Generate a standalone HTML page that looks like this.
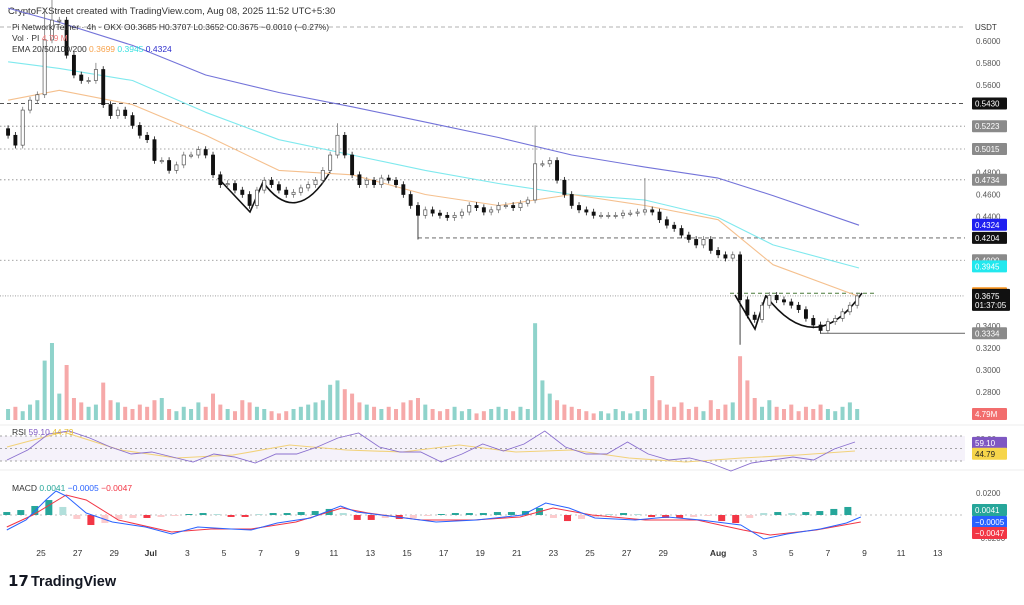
<!DOCTYPE html>
<html><head><meta charset="utf-8"><style>
body{margin:0;background:#fff;width:1024px;height:600px;overflow:hidden;font-family:"Liberation Sans",sans-serif}
svg text{font-family:"Liberation Sans",sans-serif}
</style></head><body>
<svg id="c" width="1024" height="600" viewBox="0 0 1024 600" xmlns="http://www.w3.org/2000/svg">
<rect width="1024" height="600" fill="#fff"/>
<text x="8" y="14" font-size="9.5" fill="#333">CryptoFXStreet created with TradingView.com, Aug 08, 2025 11:52 UTC+5:30</text>
<g id="grid"></g>
<g id="anno"></g>
<g id="vol"></g>
<g id="ema"></g>
<g id="candles"></g>
<g id="rsi"></g>
<g id="macd"></g>
<g id="axes"></g>
<g font-size="8.5" fill="#333">
<text x="12" y="30">Pi Network/Tether · 4h · OKX  O0.3685  H0.3707  L0.3652  C0.3675  −0.0010 (−0.27%)</text>
<text x="12" y="41">Vol · PI  <tspan fill="#f47c7c">4.79 M</tspan></text>
<text x="12" y="52">EMA 20/50/100/200  <tspan fill="#f7a24b">0.3699</tspan>  <tspan fill="#35e0e0">0.3945</tspan>  <tspan fill="#2d2dcc">0.4324</tspan></text>
<text x="12" y="435">RSI  <tspan fill="#7e57c2">59.10</tspan>  <tspan fill="#e6c03a">44.79</tspan></text>
<text x="12" y="491">MACD  <tspan fill="#26a69a">0.0041</tspan>  <tspan fill="#2962ff">−0.0005</tspan>  <tspan fill="#f23645">−0.0047</tspan></text>
</g>
<g>
<text x="8" y="586" font-size="15" font-weight="bold" fill="#131722">𝟭𝟳</text>
<text x="31" y="586" font-size="14.5" font-weight="bold" fill="#131722">TradingView</text>
</g>
</svg>
<script>
// ---- data ----
const t0 = -1.8, tStep = 0.4;
const closes = [0.514,0.505,0.537,0.546,0.551,0.601,0.619,0.619,0.587,0.569,0.564,0.564,0.574,0.542,0.532,0.537,0.532,0.523,0.514,0.510,0.491,0.491,0.482,0.487,0.496,0.496,0.501,0.496,0.478,0.469,0.470,0.464,0.460,0.450,0.464,0.473,0.469,0.464,0.460,0.462,0.466,0.469,0.473,0.482,0.496,0.514,0.496,0.478,0.469,0.473,0.469,0.475,0.473,0.469,0.460,0.450,0.441,0.446,0.443,0.441,0.439,0.441,0.444,0.450,0.448,0.444,0.446,0.450,0.450,0.448,0.452,0.455,0.488,0.488,0.491,0.473,0.460,0.450,0.446,0.444,0.441,0.441,0.441,0.441,0.443,0.443,0.444,0.446,0.444,0.437,0.432,0.429,0.423,0.419,0.414,0.419,0.409,0.405,0.402,0.405,0.364,0.350,0.346,0.359,0.368,0.364,0.362,0.359,0.355,0.347,0.341,0.336,0.344,0.347,0.353,0.359,0.3675];
const spikeHighIdx = [5,6,12,45,72,87];
const spikeHighVal = [0.630,0.640,0.580,0.525,0.523,0.475];
const spikeLowIdx = [56,100];
const spikeLowVal = [0.419,0.323];
const volumes = [5,6,4,7,9,27,35,12,25,10,8,6,7,17,9,8,6,5,7,6,9,10,5,4,6,5,8,6,12,7,5,4,9,8,6,5,4,3,4,5,6,7,8,9,16,18,14,12,8,7,6,5,6,5,8,9,10,7,5,4,5,6,4,5,3,4,5,6,5,4,6,5,44,18,12,9,7,6,5,4,3,4,3,5,4,3,4,5,20,9,7,6,8,5,6,4,9,5,7,8,29,18,10,6,9,6,5,7,4,6,5,7,5,4,6,8,5];
const emaDays = [-1.8,1,5,9,13,17,21,25,29,33,37,40,44.7];
const ema200 = [0.630,0.617,0.596,0.569,0.553,0.540,0.526,0.512,0.496,0.485,0.475,0.459,0.432];
const ema100 = [0.581,0.575,0.564,0.535,0.510,0.496,0.482,0.470,0.460,0.455,0.439,0.414,0.393];
const ema50 = [0.546,0.555,0.542,0.514,0.482,0.478,0.460,0.450,0.460,0.450,0.437,0.396,0.367];
const rsiVals = [31.6,47.6,73.2,78,66.8,52.4,41.2,44.4,36.4,28.4,41.2,36.4,26.8,41.2,41.2,52.4,66.8,74.8,52.4,44.4,44.4,28.4,41.2,57.2,46,57.2,78,52.4,41.2,41.2,60.4,41.2,31.6,34.8,26.8,14,26.8,31.6,36.4,31.6,49.2,60.4];
const rsiMa = [52.4,76.4,47.6,34.8,39.6,55.6,47.6,44.4,55.6,44.4,47.6,34.8,28.4,34.8,39.6,46];
const macdDays = [-1.87,-0.82,0.27,0.82,1.37,2.47,3.9,5.71,7.14,8.57,10.38,11.48,12.91,14.73,16.37,17.25,19.45,21.59,23.79,26.32,27.58,28.85,30.27,32.47,34.23,36.04,38.24,39.5,40.77,42.58,44.01,44.8];
const macdLine = [-0.0136,-0.0045,0.0136,0.0218,0.0173,0.0018,-0.0064,-0.0109,-0.0173,-0.0109,-0.0127,-0.0136,-0.0073,-0.0027,0.0082,0.0027,-0.0018,-0.0064,-0.0045,0,0.0109,0.0064,-0.0027,-0.0045,-0.0018,-0.0045,-0.0091,-0.0218,-0.0173,-0.0127,-0.0073,-0.0018];
const sigDays = [-1.87,-0.44,1.37,2.47,4.23,7.14,9.29,11.48,13.93,16.45,17.87,20.77,23.66,26.18,27.98,30.11,33.01,35.85,38.36,39.84,42.36,44.8];
const sigLine = [-0.0109,0,0.0182,0.0136,-0.0045,-0.0155,-0.0127,-0.0127,-0.0064,0.0064,0.0018,-0.0045,-0.0045,-0.0018,0.0064,0,-0.0045,-0.0045,-0.0136,-0.0182,-0.0136,-0.0064];
const histStart = -1.87, histStep = 0.766;
const histVals = [2.7,4.5,8.2,13.6,7.3,-3.6,-9.1,-7.3,-3.6,-2.7,-2.7,-1.8,-0.9,0.9,1.8,0.9,-1.8,-1.8,0.9,1.8,1.8,2.7,3.6,5.5,1.8,-4.5,-4.5,-2.7,-3.6,-2.7,-0.9,0.9,1.8,1.8,1.8,2.7,2.7,3.6,6.4,-2.7,-5.5,-3.6,-1.8,0.9,1.8,0.9,-1.8,-2.7,-2.7,-1.8,-0.9,-5.5,-7.3,-2.7,1.8,2.7,1.8,2.7,3.6,5.5,7.3];
const xTickDays = [0,2,4,6,8,10,12,14,16,18,20,22,24,26,28,30,32,34,37,39,41,43,45,47,49];
const xTickLabels = ["25","27","29","Jul","3","5","7","9","11","13","15","17","19","21","23","25","27","29","Aug","3","5","7","9","11","13"];
const priceTicks = [0.60,0.58,0.56,0.48,0.46,0.44,0.34,0.32,0.30,0.28];
const levelVals = [0.5430,0.5223,0.5015,0.4734,0.4204,0.4000];
const levelStyle = ["dash","dot","dot","dot","dash","dot"];
// ---- scales ----
const X = d => 41 + d*18.3;
const Y = p => 41 + (0.6 - p)/0.28*307;
const VY = v => 420 - v*2.2;
const RY = r => 448.5 - (r-50)*0.625;
const MY = v => 515 - v*1100;
const NS = "http://www.w3.org/2000/svg";
function mk(tag, attrs, parent){const e=document.createElementNS(NS,tag);for(const k in attrs)e.setAttribute(k,attrs[k]);parent.appendChild(e);return e;}
const G = id => document.getElementById(id);
// grid / levels
const grid=G('grid');
let l=mk('line',{x1:0,x2:965,y1:27,y2:27,stroke:'#999','stroke-dasharray':'4 3','stroke-width':0.7},grid);


levelVals.forEach((v,i)=>{
  const x1 = v===0.4204 ? X(t0+56*tStep) : 0;
  const e=mk('line',{x1:x1,x2:965,y1:Y(v),y2:Y(v),stroke:levelStyle[i]==='dash'?'#555':'#888','stroke-dasharray':levelStyle[i]==='dash'?'4 3':'1.5 2.5','stroke-width':levelStyle[i]==='dash'?0.9:0.8},grid);
  
  
});
l=mk('line',{x1:0,x2:965,y1:Y(0.3675),y2:Y(0.3675),stroke:'#666','stroke-dasharray':'1 1.5','stroke-width':0.6},grid);


l=mk('line',{x1:X(t0+111*tStep),x2:965,y1:Y(0.3334),y2:Y(0.3334),stroke:'#777','stroke-width':1.2},grid);


[425,470].forEach(y=>{const s=mk('line',{x1:0,x2:1024,y1:y,y2:y,stroke:'#eee','stroke-width':1},grid);

});
// volume
const vol=G('vol');
volumes.forEach((v,i)=>{
  const up = i===0 ? true : closes[i]>=closes[i-1];
  const x=X(t0+i*tStep);
  const r=mk('rect',{x:x-2,y:VY(v),width:4,height:420-VY(v),fill:up?'#8fd3cb':'#f6a9a9'},vol);
  
  
});
// EMA lines
const ema=G('ema');
[[ema200,'#7373d9'],[ema100,'#7fe9ee'],[ema50,'#f5c08e']].forEach(([arr,c],k)=>{
  const d=arr.map((v,i)=>(i?'L':'M')+X(emaDays[i]).toFixed(1)+' '+Y(v).toFixed(1)).join(' ');
  const p=mk('path',{d:d,fill:'none',stroke:c,'stroke-width':1.1,'stroke-linejoin':'round'},ema);
  
  
});
// candles
const cg=G('candles');
closes.forEach((c,i)=>{
  const o = i===0 ? 0.520 : closes[i-1];
  let hi=Math.max(o,c)+0.003, lo=Math.min(o,c)-0.003;
  const hk=spikeHighIdx.indexOf(i); if(hk>=0) hi=spikeHighVal[hk];
  const lk=spikeLowIdx.indexOf(i); if(lk>=0) lo=spikeLowVal[lk];
  const x=X(t0+i*tStep);
  const w=mk('line',{x1:x,x2:x,y1:Y(hi),y2:Y(lo),stroke:c>=o?'#777':'#111','stroke-width':0.8},cg);
  
  
  const top=Y(Math.max(o,c)), h=Math.max(1.2,Math.abs(Y(o)-Y(c)));
  const b=mk('rect',{x:x-1.6,y:top,width:3.2,height:h,fill:c>=o?'#fff':'#111',stroke:c>=o?'#555':'#111','stroke-width':0.7},cg);
  
  
});
// pattern annotations
const an=G('anno');
[["M218 178 L250 212 L263 182","v-pattern-1"],["M263 182 Q296 228 330 172","cup-pattern-1"],["M735 295 L755 329 L766 295","v-pattern-2"],["M766 296 Q815 360 862 293","cup-pattern-2"]].forEach(([d,n])=>{
  const p=mk('path',{d:d,fill:'none',stroke:'#111','stroke-width':1.6},an);
  
  
});
l=mk('line',{x1:730,x2:876,y1:Y(0.3699),y2:Y(0.3699),stroke:'#4a7a3a','stroke-dasharray':'4 3','stroke-width':1},an);


// RSI
const rg=G('rsi');
let e=mk('rect',{x:0,y:RY(70),width:965,height:RY(30)-RY(70),fill:'#7e57c2','fill-opacity':0.08},rg);


[70,50,30].forEach(v=>{const q=mk('line',{x1:0,x2:965,y1:RY(v),y2:RY(v),stroke:'#888','stroke-dasharray':'2 3','stroke-width':0.7},rg);

});
const rStep=(855-7)/(rsiVals.length-1), mStep=(855-7)/(rsiMa.length-1);
e=mk('path',{d:rsiMa.map((v,i)=>(i?'L':'M')+(7+i*mStep).toFixed(1)+' '+RY(v).toFixed(1)).join(' '),fill:'none',stroke:'#f2d27a','stroke-width':1.1},rg);


e=mk('path',{d:rsiVals.map((v,i)=>(i?'L':'M')+(7+i*rStep).toFixed(1)+' '+RY(v).toFixed(1)).join(' '),fill:'none',stroke:'#8a70cf','stroke-width':0.9},rg);


// MACD
const mg=G('macd');
e=mk('line',{x1:0,x2:965,y1:MY(0),y2:MY(0),stroke:'#aaa','stroke-dasharray':'2 3','stroke-width':0.7},mg);


histVals.forEach((v,i)=>{
  const x=X(histStart+i*histStep); const h=v*1.1;
  const grow = i===0 || Math.abs(v)>=Math.abs(histVals[i-1]);
  const col = v>=0 ? (grow?'#26a69a':'#b2dfdb') : (grow?'#f23645':'#fccbcd');
  const r=mk('rect',{x:x-3.5,y:h>=0?MY(0)-h:MY(0),width:7,height:Math.abs(h),fill:col},mg);
  
  
});
e=mk('path',{d:sigLine.map((v,i)=>(i?'L':'M')+X(sigDays[i]).toFixed(1)+' '+MY(v).toFixed(1)).join(' '),fill:'none',stroke:'#f23645','stroke-width':1},mg);


e=mk('path',{d:macdLine.map((v,i)=>(i?'L':'M')+X(macdDays[i]).toFixed(1)+' '+MY(v).toFixed(1)).join(' '),fill:'none',stroke:'#2962ff','stroke-width':1},mg);


// axes
const ax=G('axes');
xTickDays.forEach((d,i)=>{
  const t=mk('text',{x:X(d),y:556,'font-size':8.5,fill:'#333','text-anchor':'middle','font-weight':(xTickLabels[i]==='Jul'||xTickLabels[i]==='Aug')?'bold':'normal'},ax);
  t.textContent=xTickLabels[i];
  
  
});
e=mk('text',{x:975,y:30,'font-size':8,fill:'#333'},ax); e.textContent='USDT';


priceTicks.forEach(v=>{
  const t=mk('text',{x:976,y:Y(v)+3,'font-size':8,fill:'#555'},ax);
  t.textContent=v.toFixed(4);
  
  
});
[[493,'0.0200'],[538,'−0.0200'],[439,'80.00']].forEach(([y,s])=>{const t=mk('text',{x:976,y:y+3,'font-size':8,fill:'#555'},ax);t.textContent=s;

});
const badges=[[Y(0.5430),'0.5430','#111','#fff'],[Y(0.5223),'0.5223','#8a8a8a','#fff'],[Y(0.5015),'0.5015','#8a8a8a','#fff'],[Y(0.4734),'0.4734','#8a8a8a','#fff'],[Y(0.4324),'0.4324','#1f1ff0','#fff'],[Y(0.4204),'0.4204','#111','#fff'],[Y(0.4000),'0.4000','#8a8a8a','#fff'],[Y(0.3945),'0.3945','#22e8ee','#fff'],[Y(0.3699),'0.3699','#f7931e','#fff'],[Y(0.3334),'0.3334','#8a8a8a','#fff'],[414,'4.79M','#f26d6d','#fff'],[RY(59.1),'59.10','#7e57c2','#fff'],[RY(44.79)+2,'44.79','#f6d54a','#222'],[510,'0.0041','#26a69a','#fff'],[522,'−0.0005','#2962ff','#fff'],[533,'−0.0047','#f23645','#fff']];
badges.forEach(([y,s,bg,fg])=>{
  const r=mk('rect',{x:972,y:y-6,width:35,height:12,fill:bg,rx:1},ax);
  
  
  const t=mk('text',{x:975,y:y+3,'font-size':8,fill:fg},ax); t.textContent=s;
  
  
});
const cy=Y(0.3675);
e=mk('rect',{x:972,y:cy-7,width:38,height:22,fill:'#111',rx:1},ax);


e=mk('text',{x:975,y:cy+3,'font-size':8,fill:'#fff'},ax); e.textContent='0.3675';


e=mk('text',{x:975,y:cy+12,'font-size':8,fill:'#fff'},ax); e.textContent='01:37:05';


</script>
</body></html>
